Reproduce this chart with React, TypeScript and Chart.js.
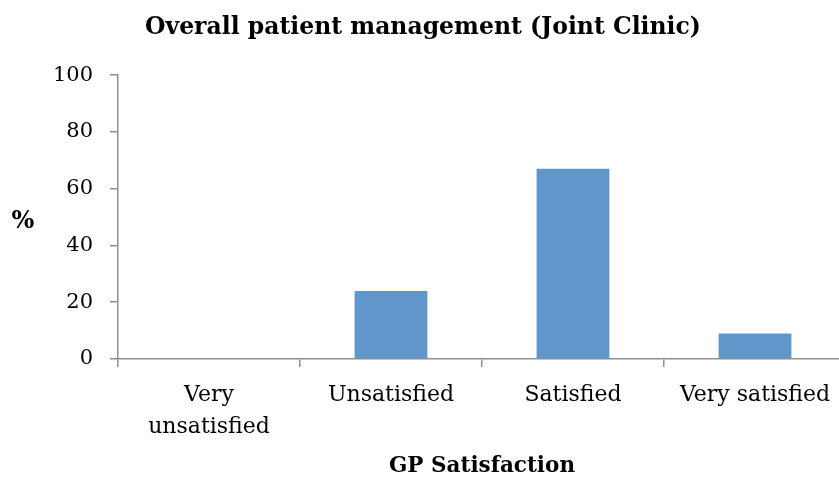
import React, { useEffect, useRef } from "react";
import { Chart, registerables } from "chart.js";

Chart.register(...registerables);

const categories: (string | string[])[] = [["Very", "unsatisfied"], "Unsatisfied", "Satisfied", "Very satisfied"];
const percentValues: number[] = [0, 24, 67, 9];
const yTicks: number[] = [0, 20, 40, 60, 80, 100];
const chartTitle = "Overall patient management (Joint Clinic)";
const xTitle = "GP Satisfaction";
const yTitle = "%";

const FONT = "'DejaVu Serif', serif";
const AXIS_COLOR = "#8f8f8f";

const percentLabel = {
  id: "percentLabel",
  afterDraw(chart: any) {
    const ctx = chart.ctx;
    ctx.save();
    ctx.font = `bold 24px ${FONT}`;
    ctx.fillStyle = "#000";
    ctx.textAlign = "center";
    ctx.textBaseline = "middle";
    ctx.fillText(yTitle, 23, 222);
    ctx.restore();
  },
};

export default function App() {
  const ref = useRef<HTMLCanvasElement | null>(null);
  useEffect(() => {
    document.body.style.margin = "0";
    const canvas = ref.current;
    if (!canvas) return;
    const chart = new Chart(canvas, {
      type: "bar",
      data: {
        labels: categories,
        datasets: [
          {
            data: percentValues,
            backgroundColor: "#6096C9",
            borderWidth: 0,
            barPercentage: 0.4,
            categoryPercentage: 1,
          },
        ],
      },
      options: {
        responsive: false,
        animation: false,
        layout: { padding: { left: 0, right: 0, top: 0, bottom: 0 } },
        plugins: {
          legend: { display: false },
          tooltip: { enabled: false },
          title: {
            display: true,
            text: chartTitle,
            color: "#000",
            font: { family: FONT, size: 23.5, weight: "bold", lineHeight: 1.2 },
            padding: { top: 14, bottom: 33 },
          },
        },
        scales: {
          x: {
            offset: true,
            afterFit(scale: any) {
              scale.height = 123;
            },
            grid: {
              display: true,
              offset: true,
              drawOnChartArea: false,
              drawTicks: true,
              tickLength: 8,
              color: AXIS_COLOR,
              lineWidth: 1.5,
            },
            border: { display: true, color: AXIS_COLOR, width: 1.5 },
            ticks: {
              color: "#000",
              font: { family: FONT, size: 22, lineHeight: 1.45 },
              padding: 12,
              maxRotation: 0,
              autoSkip: false,
            },
            title: {
              display: true,
              text: xTitle,
              color: "#000",
              font: { family: FONT, size: 21.5, weight: "bold", lineHeight: 1.2 },
              padding: { top: 10, bottom: 3 },
            },
          },
          y: {
            min: 0,
            max: 100,
            afterBuildTicks(scale: any) {
              scale.ticks = yTicks.map((v) => ({ value: v }));
            },
            afterFit(scale: any) {
              scale.width = 118;
            },
            grid: {
              display: true,
              drawOnChartArea: false,
              drawTicks: true,
              tickLength: 8,
              color: AXIS_COLOR,
              lineWidth: 1.5,
            },
            border: { display: true, color: AXIS_COLOR, width: 1.5 },
            ticks: {
              color: "#000",
              font: { family: FONT, size: 21 },
              padding: 17,
            },
          },
        },
      },
      plugins: [percentLabel],
    });
    return () => chart.destroy();
  }, []);
  return (
    <div style={{ width: 839, height: 482, overflow: "hidden", position: "relative", background: "#fff" }}>
      <canvas ref={ref} width={846} height={482} style={{ width: 846, height: 482, display: "block" }} />
    </div>
  );
}
